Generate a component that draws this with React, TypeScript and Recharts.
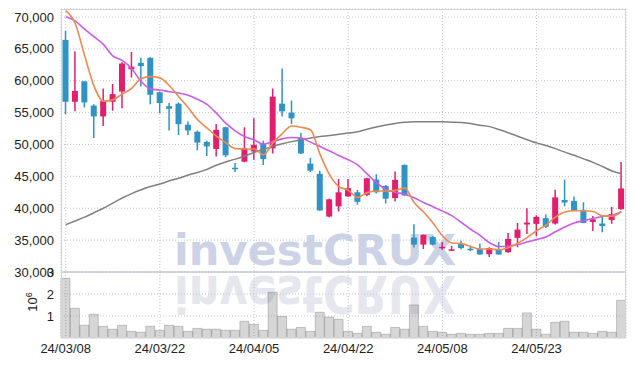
import { ComposedChart, Bar, Line, XAxis, YAxis, CartesianGrid, ReferenceLine } from 'recharts';

const dates = [
  '24/03/08', '24/03/11', '24/03/12', '24/03/13', '24/03/14', '24/03/15',
  '24/03/18', '24/03/19', '24/03/20', '24/03/21', '24/03/22',
  '24/03/25', '24/03/26', '24/03/27', '24/03/28', '24/03/29',
  '24/04/01', '24/04/02', '24/04/03', '24/04/04', '24/04/05',
  '24/04/08', '24/04/09', '24/04/11', '24/04/12',
  '24/04/15', '24/04/16', '24/04/17', '24/04/18', '24/04/19',
  '24/04/22', '24/04/23', '24/04/24', '24/04/25', '24/04/26',
  '24/04/29', '24/04/30', '24/05/02', '24/05/03', '24/05/07', '24/05/08',
  '24/05/09', '24/05/10', '24/05/13', '24/05/14', '24/05/16', '24/05/17',
  '24/05/20', '24/05/21', '24/05/22', '24/05/23', '24/05/24',
  '24/05/27', '24/05/28', '24/05/29', '24/05/30', '24/05/31',
  '24/06/03', '24/06/04', '24/06/05',
];

const opens = [
  66400, 56700, 59900, 56100, 54400, 56700, 58300, 61800, 62800, 63600,
  58200, 56000, 56400, 53100, 52000, 50400, 49300, 52700, 46350, 47300,
  48900, 50100, 49400, 56400, 55000, 51000, 47000, 45400, 38700, 40300,
  41850, 42500, 42100, 44500, 43500, 41600, 46800, 35400, 34300, 35500,
  33800, 33350, 34400, 33650, 33600, 32800, 33500, 33100, 35350, 37450,
  37550, 38450, 37600, 41300, 41150, 39750, 37850, 37600, 38150, 39850,
];
const highs = [
  67800, 64600, 59900, 56300, 58800, 59500, 62900, 64500, 63600, 63700,
  58300, 56500, 56600, 53600, 52200, 50600, 53200, 52800, 47100, 52700,
  54100, 50600, 58800, 61900, 56900, 51800, 47900, 45900, 41500, 44600,
  44600, 42850, 44800, 45350, 43650, 45750, 46850, 37500, 35900, 35600,
  34700, 34100, 34900, 34150, 34450, 33900, 34700, 36100, 37700, 40000,
  38900, 39000, 42900, 44450, 41850, 40950, 38800, 38650, 40200, 47250,
];
const lows = [
  54800, 55200, 55800, 51000, 52900, 55300, 55700, 60500, 59100, 56300,
  54900, 52200, 51500, 51500, 49100, 48200, 48100, 48000, 45700, 47200,
  47600, 46800, 48600, 54400, 53200, 48500, 45700, 39600, 38600, 39500,
  41800, 40550, 41900, 42300, 40750, 41050, 41950, 33850, 33600, 34200,
  33500, 33300, 33550, 33250, 32700, 32350, 32700, 33000, 33900, 35950,
  35600, 36900, 37450, 40300, 39550, 37650, 36450, 36250, 37550, 39750,
];
const closes = [
  56700, 58400, 56600, 54400, 56800, 57900, 62700, 62200, 62300, 57800,
  56500, 55600, 53200, 52200, 50300, 49700, 52300, 48300, 46250, 49400,
  49950, 47700, 57500, 55200, 54100, 48600, 45900, 39650, 41400, 42500,
  43150, 41000, 44700, 42500, 41500, 44450, 42000, 34300, 35850, 34300,
  33950, 33550, 33750, 33450, 32750, 33750, 32750, 35200, 36650, 37750,
  38650, 37100, 41700, 40900, 39600, 37700, 38250, 37200, 39100, 43100,
];
const volumes = [
  2710000, 1350000, 580000, 1080000, 530000, 400000, 580000, 300000, 260000, 530000,
  350000, 580000, 530000, 300000, 440000, 400000, 400000, 350000, 350000, 760000,
  620000, 350000, 2080000, 980000, 400000, 480000, 300000, 1170000, 950000, 850000,
  300000, 210000, 530000, 260000, 170000, 480000, 400000, 1500000, 530000, 300000,
  260000, 170000, 210000, 170000, 170000, 210000, 210000, 440000, 440000, 1140000,
  400000, 170000, 710000, 760000, 260000, 260000, 210000, 300000, 260000, 1710000,
];
const ma5 = [
  71000, 69010, 64000, 59200, 56800, 57000, 57900, 58800, 60300, 60650,
  60450, 59250, 57500, 55800, 53900, 52600, 51300, 50300, 49350, 49300,
  49300, 48400, 50250, 51700, 52900, 52700, 52300, 48500, 45300, 43400,
  42850, 41700, 42450, 42700, 42700, 42800, 43150, 40900, 39400, 37700,
  35700, 34550, 34450, 34000, 33600, 33600, 33500, 33800, 34500, 35400,
  36470, 37350, 38600, 39400, 39600, 39600, 39500, 38800, 38750, 39450,
];
const ma20 = [
  70050, 69400, 68100, 66900, 65700, 63900, 63200, 61900, 59900, 58720,
  58550, 58280, 58070, 57740, 57080, 56300, 54910, 53340, 52140, 51250,
  50730, 50050, 50470, 50880, 51090, 51000, 50370, 49690, 49010, 48270,
  47600, 46800, 45400, 44000, 42950, 42500, 42200, 41650, 40900, 40250,
  39550, 38850, 37800, 36700, 35750, 34600, 34000, 34050, 34300, 34700,
  35100, 35500, 36300, 37050, 37700, 38050, 38400, 38700, 38900, 39450,
];
const ma60 = [
  37400, 38000, 38600, 39300, 40000, 40800, 41600, 42300, 42900, 43400,
  43800, 44300, 44700, 45200, 45600, 46100, 46750, 47250, 47700, 48200,
  48750, 49250, 49700, 50100, 50450, 50750, 51000, 51250, 51400, 51600,
  51800, 52000, 52400, 52750, 53050, 53300, 53500, 53550, 53550, 53550,
  53550, 53500, 53450, 53300, 53000, 52800, 52350, 51850, 51300, 50750,
  50250, 49850, 49350, 48800, 48300, 47750, 47200, 46550, 45850, 45400,
];

const xTicks = ['24/03/08', '24/03/22', '24/04/05', '24/04/22', '24/05/08', '24/05/23'];
const priceTicks = [30000, 35000, 40000, 45000, 50000, 55000, 60000, 65000, 70000];
const volumeTicks = [1000000, 2000000, 3000000];

const UP = '#e31f6d';
const DOWN = '#2f93c6';
const FONT = "'Liberation Sans', Arial, sans-serif";
const tickStyle = { fontSize: 13, fill: '#222', fontFamily: FONT };

const priceData = dates.map((d, i) => ({
  date: d,
  open: opens[i],
  high: highs[i],
  low: lows[i],
  close: closes[i],
  range: [lows[i], highs[i]],
  ma5: ma5[i],
  ma20: ma20[i],
  ma60: ma60[i],
}));

const volumeData = dates.map((d, i) => ({ date: d, volume: volumes[i] }));

// wick = full range bar, body scaled from it
const Candle = (props: any) => {
  const { x, y, width, height, payload } = props;
  if (!payload) return null;
  const { open, close, high, low } = payload;
  const top = Math.min(y, y + height);
  const h = Math.abs(height);
  const ratio = h / (high - low || 1);
  const color = close >= open ? UP : DOWN;
  const bodyTop = top + (high - Math.max(open, close)) * ratio;
  const bodyH = Math.max(Math.abs(open - close) * ratio, 1.5);
  const cx = x + width / 2;
  return (
    <g>
      <line x1={cx} x2={cx} y1={top} y2={top + h} stroke={color} strokeWidth={1.5} />
      <rect x={x} y={bodyTop} width={width} height={bodyH} fill={color} />
    </g>
  );
};

const YTick = (props: any) => {
  const { x, y, payload, fmt } = props;
  return (
    <text x={x} y={y} dy="0.355em" textAnchor="end" fontSize={13} fill="#222" fontFamily={FONT}>
      {fmt(payload.value)}
    </text>
  );
};

const App = () => {
  return (
    <div style={{ position: 'absolute', left: 0, top: 0, width: 634, height: 366, background: '#fff', overflow: 'hidden' }}>
      {/* watermark + reflection */}
      <svg width={634} height={366} style={{ position: 'absolute', left: 0, top: 0 }}>
        <text x={315} y={265} textAnchor="middle" fontFamily="'DejaVu Sans', sans-serif" fontWeight="bold"
          fontSize={43} fill="#ccd3e6" textLength={282} lengthAdjust="spacingAndGlyphs">investCRUX</text>
        <g transform="translate(0, 594) scale(1, -1.2)">
          <text x={315} y={265} textAnchor="middle" fontFamily="'DejaVu Sans', sans-serif" fontWeight="bold"
            fontSize={43} fill="#e5e6ee" textLength={282} lengthAdjust="spacingAndGlyphs">investCRUX</text>
        </g>
      </svg>

      <div style={{ position: 'absolute', left: 0, top: 0 }}>
        <ComposedChart width={634} height={290} data={priceData} margin={{ top: 9, right: 8, bottom: 18, left: 0 }} barCategoryGap="16%">
          <CartesianGrid stroke="#bfc3d6" strokeDasharray="1 2" />
          <XAxis dataKey="date" hide ticks={xTicks} interval={0} />
          <YAxis
            domain={[30000, 71250]}
            ticks={priceTicks}
            interval={0}
            allowDataOverflow
            width={61}
            tickSize={5}
            axisLine={false}
            tickLine={false}
            tick={<YTick fmt={(v: number) => v.toLocaleString('en-US')} />}
          />
          <Bar dataKey="range" shape={(p: any) => <Candle {...p} />} isAnimationActive={false} />
          <Line type="monotone" dataKey="ma60" stroke="#808080" strokeWidth={1.5} dot={false} isAnimationActive={false} />
          <Line type="monotone" dataKey="ma20" stroke="#c95be9" strokeWidth={1.6} dot={false} isAnimationActive={false} />
          <Line type="monotone" dataKey="ma5" stroke="#ef8a4f" strokeWidth={1.6} dot={false} isAnimationActive={false} />
          <ReferenceLine y={30000} stroke="#a9aec8" strokeWidth={1} />
        </ComposedChart>
      </div>

      <div style={{ position: 'absolute', left: 0, top: 255 }}>
        <ComposedChart width={634} height={111} data={volumeData} margin={{ top: 17, right: 8, bottom: 0, left: 0 }} barCategoryGap={0}>
          <CartesianGrid stroke="#bfc3d6" strokeDasharray="1 2" horizontalValues={[1000000, 2000000]} />
          <XAxis
            dataKey="date"
            ticks={xTicks}
            interval={0}
            height={28}
            tickSize={4}
            axisLine={false}
            tickLine={false}
            tick={tickStyle}
          />
          <YAxis
            domain={[0, 3000000]}
            ticks={volumeTicks}
            interval={0}
            width={61}
            tickSize={5}
            axisLine={false}
            tickLine={false}
            tick={<YTick fmt={(v: number) => String(v / 1000000)} />}
          />
          <Bar dataKey="volume" fill="rgba(120,120,120,0.3)" stroke="rgba(90,90,90,0.3)" strokeWidth={1} isAnimationActive={false} />
        </ComposedChart>
      </div>

      {/* plot frame and volume unit */}
      <div style={{ position: 'absolute', left: 61, top: 9, width: 565, height: 329, border: '1px solid #d3d3d3', boxSizing: 'border-box', pointerEvents: 'none' }} />
      <svg width={634} height={366} style={{ position: 'absolute', left: 0, top: 0, pointerEvents: 'none' }}>
        <text transform="translate(37, 302) rotate(-90)" textAnchor="middle" fontFamily={FONT} fontSize={13} fill="#222">
          10<tspan dy={-5} fontSize={9}>6</tspan>
        </text>
      </svg>
    </div>
  );
};

export default App;
